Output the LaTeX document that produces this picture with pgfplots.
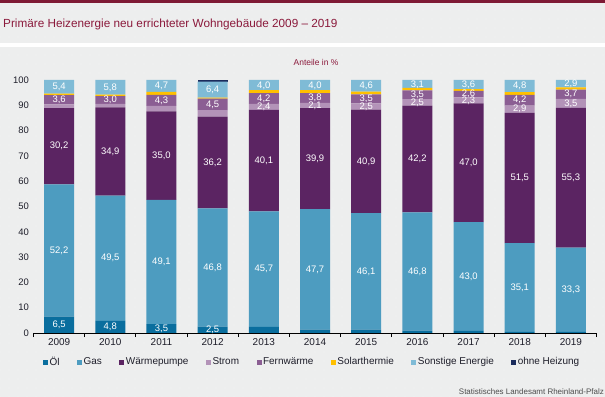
\documentclass[border=0pt]{standalone}
\usepackage{pgfplots}
\pgfplotsset{compat=1.18}
\usepackage{pgfplotstable}
\usetikzlibrary{patterns.meta}
\usepackage{fontspec}
\setmainfont{Liberation Sans}
\definecolor{bg}{HTML}{EDEEEE}
\definecolor{titred}{HTML}{8B1A3C}
\definecolor{topbar}{HTML}{7E1A35}
\definecolor{cOel}{HTML}{0A6E9E}
\definecolor{cGas}{HTML}{4D9CC0}
\definecolor{cWP}{HTML}{5B2462}
\definecolor{cStrom}{HTML}{B393B8}
\definecolor{cFern}{HTML}{8B5E93}
\definecolor{cSolar}{HTML}{FFC000}
\definecolor{cSonst}{HTML}{7FBBD6}
\definecolor{cOhne}{HTML}{1A2B5C}
\definecolor{txt}{HTML}{1E1E2A}
\pgfplotstableread{
x Oel Gas WP Strom Fern Solar Sonst Ohne
0 6.5 52.2 30.2 1.5 3.6 0.6 5.4 0.0
1 4.8 49.5 34.9 1.4 3.0 0.6 5.8 0.0
2 3.5 49.1 35.0 2.2 4.3 1.2 4.7 0.0
3 2.5 46.8 36.2 2.6 4.5 0.4 6.4 0.6
4 2.4 45.7 40.1 2.4 4.2 1.2 4.0 0.0
5 1.3 47.7 39.9 2.1 3.8 1.2 4.0 0.0
6 1.3 46.1 40.9 2.5 3.5 1.1 4.6 0.0
7 0.9 46.8 42.2 2.5 3.5 1.0 3.1 0.0
8 0.8 43.0 47.0 2.3 2.6 0.7 3.6 0.0
9 0.4 35.1 51.5 2.9 4.2 1.1 4.8 0.0
10 0.4 33.3 55.3 3.5 3.7 0.9 2.9 0.0
}\data
\pgfplotstableread{
x y lab
0 3.25 6,5
0 32.6 52,2
0 73.8 30,2
0 92.2 3,6
0 97.3 5,4
1 2.4 4,8
1 29.55 49,5
1 71.75 34,9
1 92.1 3,0
1 97.1 5,8
2 1.75 3,5
2 28.05 49,1
2 70.1 35,0
2 91.95 4,3
2 97.65 4,7
3 1.25 2,5
3 25.9 46,8
3 67.4 36,2
3 90.35 4,5
3 96.2 6,4
4 25.25 45,7
4 68.15 40,1
4 89.4 2,4
4 92.7 4,2
4 97.8 4,0
5 25.15 47,7
5 68.95 39,9
5 89.95 2,1
5 92.9 3,8
5 97.8 4,0
6 24.35 46,1
6 67.85 40,9
6 89.55 2,5
6 92.55 3,5
6 97.6 4,6
7 24.3 46,8
7 68.8 42,2
7 91.15 2,5
7 94.15 3,5
7 98.15 3,1
8 22.3 43,0
8 67.3 47,0
8 91.95 2,3
8 94.4 2,6
8 98.2 3,6
9 17.95 35,1
9 61.25 51,5
9 88.45 2,9
9 92.0 4,2
9 97.6 4,8
10 17.05 33,3
10 61.35 55,3
10 90.75 3,5
10 94.35 3,7
10 98.55 2,9
}\labels
\begin{document}
\begin{tikzpicture}
\useasboundingbox (0,0) rectangle (605bp,397bp);
\fill[bg] (0,0) rectangle (605bp,397bp);
\fill[pattern={Dots[distance=9bp, radius=0.35bp]}, pattern color=white] (0,0) rectangle (605bp,394bp);
\fill[white] (0,350bp) rectangle (605bp,354bp);
\fill[topbar] (0,394bp) rectangle (605bp,397bp);
\node[anchor=base west, inner sep=0pt, text=titred, font=\fontsize{11.8}{13}\selectfont] at (3bp,369bp) {Primäre Heizenergie neu errichteter Wohngebäude 2009 – 2019};
\node[anchor=base, inner sep=0pt, text=titred, font=\fontsize{8.5}{9}\selectfont] at (316bp,331bp) {Anteile in \%};
\node[anchor=base east, inner sep=0pt, text=black!70, font=\fontsize{8}{9}\selectfont] at (604bp,3bp) {Statistisches Landesamt Rheinland-Pfalz};
\begin{axis}[
  at={(33.5bp,64bp)}, anchor=south west,
  scale only axis, width=563bp, height=253bp,
  ybar stacked, bar width=30bp,
  xmin=-0.5, xmax=10.5, ymin=0, ymax=100,
  axis lines*=left,
  y axis line style={draw=none},
  x axis line style={black, line width=0.8pt},
  xtick={0,...,10},
  xticklabels={2009,2010,2011,2012,2013,2014,2015,2016,2017,2018,2019},
  minor xtick={-0.5,0.5,...,10.5},
  major tick length=0pt, minor tick length=4bp,
  tick align=outside,
  minor tick style={black, line width=0.8pt},
  ytick={0,10,...,100},
  ytick style={draw=none},
  /pgf/number format/assume math mode=true,
  xticklabel style={font=\fontsize{10}{11}\selectfont, text=txt, yshift=-2.5bp},
  yticklabel style={font=\fontsize{9.5}{10}\selectfont, text=txt, xshift=-1bp},
  legend image code/.code={\fill[#1] (0bp,-2.5bp) rectangle (5bp,2.5bp);},
  legend columns=-1,
  legend style={at={(0.0169,-0.1150)}, anchor=west, draw=none, fill=none,
    inner xsep=0pt, inner ysep=0pt,
    font=\fontsize{10}{11}\selectfont, text=txt,
    nodes={inner xsep=1.5bp},
    /tikz/every even column/.append style={column sep=16bp},
    /tikz/every odd column/.append style={column sep=0bp}},
  legend cell align=left,
]
\addplot[fill=cOel, draw=none] table[x=x,y=Oel]{\data};
\addplot[fill=cGas, draw=none] table[x=x,y=Gas]{\data};
\addplot[fill=cWP, draw=none] table[x=x,y=WP]{\data};
\addplot[fill=cStrom, draw=none] table[x=x,y=Strom]{\data};
\addplot[fill=cFern, draw=none] table[x=x,y=Fern]{\data};
\addplot[fill=cSolar, draw=none] table[x=x,y=Solar]{\data};
\addplot[fill=cSonst, draw=none] table[x=x,y=Sonst]{\data};
\addplot[fill=cOhne, draw=none] table[x=x,y=Ohne]{\data};
\legend{Öl,Gas,Wärmepumpe,Strom,Fernwärme,Solarthermie,Sonstige Energie,ohne Heizung}
\end{axis}
\begin{axis}[
  at={(33.5bp,64bp)}, anchor=south west,
  scale only axis, width=563bp, height=253bp,
  xmin=-0.5, xmax=10.5, ymin=0, ymax=100,
  hide axis,
]
\addplot[only marks, mark=*, mark size=0pt, mark options={draw=none, fill=none},
  nodes near coords, point meta=explicit symbolic,
  every node near coord/.append style={anchor=center, text=white, inner sep=0pt,
    font=\fontsize{9.5}{10}\selectfont}]
  table[x=x, y=y, meta=lab]{\labels};
\end{axis}
\end{tikzpicture}
\end{document}
